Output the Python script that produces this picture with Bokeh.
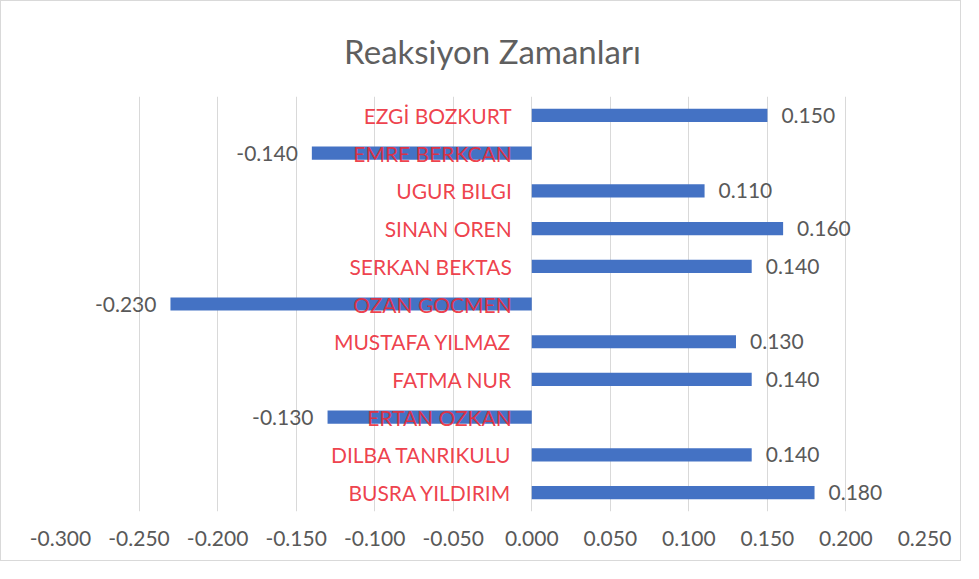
from bokeh.plotting import figure
from bokeh.models import ColumnDataSource, Range1d, FactorRange, FixedTicker, NumeralTickFormatter
from bokeh.core.properties import value
from bokeh.embed import file_html
from bokeh.resources import INLINE

title_text = "Reaksiyon Zamanları"
names = ["EZGİ BOZKURT", "EMRE BERKCAN", "UGUR BILGI", "SINAN OREN", "SERKAN BEKTAS",
         "OZAN GOCMEN", "MUSTAFA YILMAZ", "FATMA NUR", "ERTAN OZKAN", "DILBA TANRIKULU",
         "BUSRA YILDIRIM"]
times = [0.150, -0.140, 0.110, 0.160, 0.140, -0.230, 0.130, 0.140, -0.130, 0.140, 0.180]
tick_values = [-0.30, -0.25, -0.20, -0.15, -0.10, -0.05, 0.0, 0.05, 0.10, 0.15, 0.20, 0.25]

FONT = "Lato"
GRAY = "#595959"

pos_names = [n for n, t in zip(names, times) if t >= 0]
pos_vals = [t for t in times if t >= 0]
neg_names = [n for n, t in zip(names, times) if t < 0]
neg_vals = [t for t in times if t < 0]

src = ColumnDataSource(dict(name=names, t=times, zero=[0.0] * len(names)))
pos_src = ColumnDataSource(dict(name=pos_names, t=pos_vals, lab=["%.3f" % v for v in pos_vals]))
neg_src = ColumnDataSource(dict(name=neg_names, t=neg_vals, lab=["%.3f" % v for v in neg_vals]))

p = figure(width=961, height=561, output_backend="svg", toolbar_location=None,
           x_range=Range1d(-0.30, 0.25),
           y_range=FactorRange(factors=list(reversed(names)), range_padding=0),
           min_border_left=59, min_border_right=38, min_border_top=95, min_border_bottom=51,
           title=title_text)
p.styles = {"border": "1px solid #D9D9D9"}

p.title.align = "center"
p.title.text_font = FONT
p.title.text_font_size = "33px"
p.title.text_font_style = "normal"
p.title.text_color = "#5F5F5F"
p.title.standoff = 52

p.outline_line_color = None
p.ygrid.grid_line_color = None
p.xgrid.grid_line_color = "#D9D9D9"
p.xgrid.ticker = FixedTicker(ticks=tick_values)
p.yaxis.visible = False

ax = p.xaxis[0]
ax.ticker = FixedTicker(ticks=tick_values)
ax.formatter = NumeralTickFormatter(format="0.000")
ax.axis_line_color = None
ax.major_tick_line_color = None
ax.minor_tick_line_color = None
ax.major_label_text_font = FONT
ax.major_label_text_font_size = "21px"
ax.major_label_text_color = GRAY
ax.major_label_standoff = 13

p.hbar(y="name", left="zero", right="t", height=0.35, source=src,
       fill_color="#4472C4", line_color=None)

p.text(x=0, y="name", text="name", source=src, x_offset=-20,
       text_align="right", text_baseline="middle", text_font=value(FONT),
       text_font_size="21px", text_color="#EC2A36", text_alpha=0.9)

p.text(x="t", y="name", text="lab", source=pos_src, x_offset=14,
       text_align="left", text_baseline="middle", text_font=value(FONT),
       text_font_size="21px", text_color=GRAY)
p.text(x="t", y="name", text="lab", source=neg_src, x_offset=-14,
       text_align="right", text_baseline="middle", text_font=value(FONT),
       text_font_size="21px", text_color=GRAY)

open("out.html", "w").write(file_html(p, INLINE))
